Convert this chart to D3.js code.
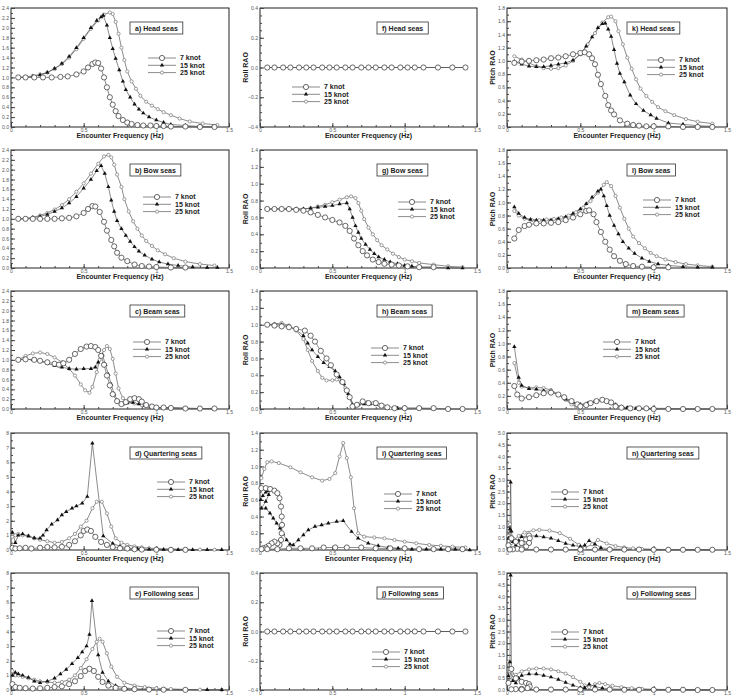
<!DOCTYPE html>
<html>
<head>
<meta charset="utf-8">
<script src="https://cdnjs.cloudflare.com/ajax/libs/d3/7.8.5/d3.min.js"></script>
<style>
  body { margin: 0; background: #fff; }
  text { font-family: Arial, "Liberation Sans", sans-serif; }
</style>
</head>
<body>
<svg id="fig" width="734" height="699"></svg>
<script>
// ---- data: [encounter frequency (Hz), RAO] ----

// head seas
const heaveHead7 = [[0.05,1.0],[0.1,1.0],[0.16,1.0],[0.22,1.0],[0.28,1.0],[0.34,1.01],[0.39,1.02],[0.45,1.06],[0.5,1.12],[0.53,1.2],[0.56,1.27],[0.58,1.3],[0.6,1.29],[0.62,1.18],[0.64,1.0],[0.66,0.8],[0.68,0.6],[0.7,0.45],[0.72,0.32],[0.74,0.22],[0.77,0.14],[0.8,0.09],[0.83,0.06],[0.87,0.04],[0.91,0.03],[0.96,0.03],[1.0,0.02],[1.05,0.02],[1.1,0.01],[1.2,0.01],[1.3,0.0],[1.4,0.0]];
const heaveHead15 = [[0.05,1.0],[0.1,1.0],[0.15,1.02],[0.2,1.05],[0.25,1.1],[0.3,1.18],[0.35,1.28],[0.4,1.42],[0.45,1.6],[0.5,1.8],[0.55,2.0],[0.59,2.15],[0.62,2.22],[0.635,2.25],[0.66,2.05],[0.68,1.8],[0.7,1.58],[0.72,1.38],[0.745,1.15],[0.77,0.92],[0.79,0.75],[0.82,0.6],[0.85,0.46],[0.88,0.36],[0.91,0.28],[0.95,0.2],[1.0,0.14],[1.05,0.09],[1.1,0.05],[1.2,0.03],[1.3,0.01],[1.4,0.0]];
const heaveHead25 = [[0.05,1.0],[0.1,1.01],[0.15,1.03],[0.2,1.06],[0.25,1.1],[0.3,1.17],[0.35,1.27],[0.4,1.4],[0.45,1.57],[0.5,1.78],[0.55,1.98],[0.6,2.15],[0.64,2.27],[0.68,2.31],[0.7,2.28],[0.72,2.12],[0.74,1.88],[0.76,1.6],[0.78,1.35],[0.8,1.12],[0.83,0.92],[0.86,0.77],[0.89,0.63],[0.93,0.51],[0.97,0.43],[1.01,0.36],[1.05,0.3],[1.1,0.24],[1.16,0.17],[1.23,0.11],[1.32,0.07],[1.42,0.04]];
const pitchHead7 = [[0.05,0.97],[0.1,0.99],[0.15,1.0],[0.2,1.01],[0.25,1.02],[0.3,1.04],[0.35,1.05],[0.4,1.07],[0.45,1.1],[0.5,1.12],[0.53,1.13],[0.56,1.1],[0.58,1.04],[0.6,0.95],[0.62,0.79],[0.64,0.65],[0.67,0.47],[0.69,0.33],[0.71,0.25],[0.73,0.19],[0.77,0.1],[0.82,0.05],[0.86,0.03],[0.9,0.02],[0.95,0.01],[1.0,0.01],[1.1,0.01],[1.2,0.0],[1.3,0.0],[1.4,0.0]];
const pitchHead15 = [[0.05,0.99],[0.1,0.95],[0.15,0.92],[0.2,0.91],[0.25,0.91],[0.3,0.93],[0.35,0.95],[0.4,0.97],[0.45,1.01],[0.5,1.1],[0.54,1.22],[0.58,1.36],[0.62,1.5],[0.65,1.56],[0.67,1.57],[0.69,1.48],[0.71,1.37],[0.73,1.17],[0.75,0.96],[0.77,0.81],[0.8,0.68],[0.84,0.48],[0.88,0.35],[0.93,0.25],[0.98,0.18],[1.02,0.13],[1.1,0.06],[1.2,0.04],[1.3,0.02],[1.4,0.01]];
const pitchHead25 = [[0.05,1.07],[0.1,1.02],[0.15,0.97],[0.2,0.92],[0.25,0.89],[0.3,0.88],[0.35,0.89],[0.4,0.93],[0.45,1.0],[0.5,1.1],[0.55,1.25],[0.6,1.42],[0.65,1.58],[0.69,1.66],[0.71,1.67],[0.74,1.6],[0.76,1.45],[0.79,1.25],[0.82,1.05],[0.85,0.88],[0.88,0.72],[0.91,0.58],[0.95,0.47],[0.99,0.38],[1.03,0.3],[1.08,0.24],[1.14,0.18],[1.22,0.12],[1.3,0.08],[1.4,0.05]];

// bow seas
const heaveBow7 = [[0.05,1.0],[0.1,1.0],[0.15,1.0],[0.2,1.0],[0.25,1.0],[0.3,1.0],[0.35,1.01],[0.4,1.02],[0.45,1.05],[0.5,1.12],[0.53,1.2],[0.56,1.26],[0.58,1.25],[0.61,1.14],[0.64,0.94],[0.66,0.76],[0.69,0.57],[0.71,0.44],[0.73,0.31],[0.76,0.21],[0.8,0.14],[0.85,0.07],[0.9,0.04],[0.95,0.03],[1.0,0.02],[1.1,0.01],[1.2,0.01]];
const heaveBow15 = [[0.05,1.0],[0.1,1.0],[0.15,1.02],[0.2,1.05],[0.25,1.09],[0.3,1.15],[0.35,1.22],[0.4,1.32],[0.45,1.45],[0.5,1.62],[0.55,1.8],[0.59,1.98],[0.62,2.08],[0.645,1.92],[0.67,1.65],[0.69,1.38],[0.71,1.15],[0.73,0.96],[0.76,0.8],[0.79,0.66],[0.82,0.54],[0.85,0.43],[0.88,0.34],[0.92,0.26],[0.97,0.18],[1.02,0.12],[1.08,0.08],[1.15,0.05],[1.25,0.02],[1.35,0.01],[1.42,0.01]];
const heaveBow25 = [[0.05,1.0],[0.1,1.01],[0.15,1.03],[0.2,1.07],[0.25,1.12],[0.3,1.19],[0.35,1.28],[0.4,1.4],[0.45,1.55],[0.5,1.72],[0.55,1.92],[0.6,2.12],[0.64,2.27],[0.67,2.3],[0.69,2.25],[0.71,2.1],[0.73,1.9],[0.76,1.65],[0.78,1.4],[0.81,1.15],[0.84,0.95],[0.87,0.8],[0.9,0.66],[0.93,0.55],[0.97,0.45],[1.01,0.36],[1.06,0.28],[1.12,0.2],[1.2,0.13],[1.3,0.08],[1.4,0.05]];
const rollBow7 = [[0.05,0.7],[0.1,0.7],[0.15,0.7],[0.2,0.7],[0.25,0.69],[0.3,0.68],[0.35,0.66],[0.4,0.63],[0.45,0.6],[0.5,0.57],[0.55,0.54],[0.59,0.5],[0.62,0.44],[0.65,0.35],[0.68,0.27],[0.71,0.2],[0.74,0.15],[0.78,0.1],[0.82,0.07],[0.86,0.05],[0.91,0.04],[0.96,0.03],[1.02,0.02],[1.1,0.01],[1.2,0.01]];
const rollBow15 = [[0.05,0.7],[0.1,0.7],[0.15,0.7],[0.2,0.7],[0.25,0.7],[0.3,0.7],[0.35,0.71],[0.4,0.72],[0.45,0.73],[0.5,0.74],[0.55,0.76],[0.6,0.77],[0.62,0.7],[0.64,0.6],[0.66,0.5],[0.68,0.42],[0.7,0.35],[0.73,0.28],[0.76,0.22],[0.79,0.17],[0.82,0.13],[0.86,0.1],[0.9,0.07],[0.95,0.05],[1.0,0.03],[1.05,0.02],[1.1,0.01],[1.2,0.01],[1.3,0.0],[1.4,0.0]];
const rollBow25 = [[0.05,0.7],[0.1,0.7],[0.15,0.7],[0.2,0.7],[0.25,0.7],[0.3,0.7],[0.35,0.71],[0.4,0.73],[0.45,0.75],[0.5,0.78],[0.55,0.81],[0.6,0.84],[0.63,0.85],[0.66,0.83],[0.68,0.77],[0.7,0.68],[0.72,0.58],[0.75,0.48],[0.78,0.4],[0.81,0.33],[0.84,0.27],[0.88,0.22],[0.92,0.17],[0.96,0.13],[1.0,0.1],[1.05,0.08],[1.1,0.06],[1.2,0.04],[1.3,0.02],[1.4,0.01]];
const pitchBow7 = [[0.05,0.45],[0.08,0.58],[0.12,0.64],[0.15,0.66],[0.2,0.68],[0.25,0.68],[0.3,0.69],[0.35,0.7],[0.4,0.73],[0.45,0.77],[0.5,0.82],[0.54,0.87],[0.56,0.88],[0.59,0.82],[0.61,0.7],[0.64,0.55],[0.67,0.4],[0.7,0.28],[0.73,0.18],[0.77,0.11],[0.81,0.06],[0.86,0.03],[0.92,0.02],[1.0,0.01],[1.1,0.01]];
const pitchBow15 = [[0.05,0.93],[0.08,0.83],[0.12,0.77],[0.16,0.74],[0.2,0.73],[0.25,0.73],[0.3,0.73],[0.35,0.75],[0.4,0.78],[0.45,0.83],[0.5,0.9],[0.54,0.98],[0.58,1.08],[0.62,1.17],[0.64,1.2],[0.66,1.1],[0.68,0.95],[0.7,0.8],[0.73,0.65],[0.76,0.52],[0.79,0.4],[0.83,0.3],[0.87,0.22],[0.92,0.15],[0.97,0.1],[1.03,0.06],[1.1,0.04],[1.2,0.02],[1.3,0.01],[1.4,0.01]];
const pitchBow25 = [[0.05,0.87],[0.08,0.8],[0.12,0.75],[0.17,0.73],[0.22,0.73],[0.27,0.74],[0.32,0.75],[0.37,0.77],[0.42,0.8],[0.47,0.85],[0.52,0.92],[0.57,1.02],[0.62,1.15],[0.66,1.27],[0.68,1.31],[0.71,1.25],[0.74,1.1],[0.77,0.92],[0.8,0.75],[0.83,0.6],[0.86,0.48],[0.9,0.38],[0.94,0.3],[0.98,0.23],[1.02,0.18],[1.08,0.13],[1.15,0.09],[1.22,0.06],[1.3,0.04],[1.4,0.02]];

// beam seas
const heaveBeam7 = [[0.05,1.0],[0.1,1.01],[0.16,1.0],[0.2,0.98],[0.25,0.95],[0.3,0.92],[0.33,0.9],[0.36,0.93],[0.4,1.0],[0.44,1.12],[0.48,1.22],[0.52,1.27],[0.55,1.28],[0.58,1.26],[0.6,1.2],[0.62,1.08],[0.64,0.9],[0.66,0.68],[0.68,0.48],[0.7,0.3],[0.73,0.16],[0.76,0.1],[0.79,0.14],[0.82,0.2],[0.85,0.22],[0.88,0.2],[0.9,0.15],[0.93,0.08],[0.97,0.05],[1.0,0.03],[1.05,0.03],[1.1,0.02],[1.2,0.01],[1.3,0.01],[1.4,0.01]];
const heaveBeam15 = [[0.05,1.0],[0.1,1.02],[0.15,1.0],[0.2,0.97],[0.25,0.93],[0.3,0.88],[0.35,0.85],[0.4,0.82],[0.45,0.81],[0.5,0.82],[0.55,0.82],[0.58,0.85],[0.6,0.95],[0.63,1.1],[0.65,0.9],[0.67,0.7],[0.69,0.5],[0.71,0.3],[0.74,0.15],[0.77,0.1],[0.8,0.12],[0.84,0.13],[0.88,0.1],[0.92,0.07],[0.96,0.04],[1.0,0.03],[1.1,0.02],[1.2,0.01],[1.3,0.01],[1.4,0.0]];
const heaveBeam25 = [[0.05,1.0],[0.1,1.08],[0.15,1.13],[0.2,1.15],[0.25,1.12],[0.3,1.05],[0.35,0.95],[0.4,0.82],[0.44,0.68],[0.48,0.5],[0.51,0.38],[0.54,0.33],[0.56,0.45],[0.59,0.75],[0.61,1.0],[0.64,1.2],[0.66,1.28],[0.68,1.22],[0.7,1.02],[0.72,0.72],[0.74,0.42],[0.77,0.22],[0.8,0.14],[0.85,0.11],[0.9,0.08],[0.95,0.05],[1.0,0.03],[1.1,0.03],[1.2,0.02],[1.3,0.01],[1.4,0.01]];
const rollBeam7 = [[0.05,1.0],[0.1,0.99],[0.15,0.98],[0.2,0.97],[0.25,0.95],[0.31,0.93],[0.35,0.87],[0.38,0.8],[0.42,0.69],[0.46,0.6],[0.49,0.52],[0.53,0.41],[0.57,0.32],[0.6,0.22],[0.62,0.14],[0.64,0.03],[0.67,0.05],[0.71,0.09],[0.75,0.07],[0.8,0.07],[0.84,0.04],[0.88,0.02],[0.93,0.01],[1.0,0.01],[1.1,0.01],[1.2,0.01],[1.3,0.0],[1.4,0.0]];
const rollBeam15 = [[0.05,1.0],[0.1,1.0],[0.15,1.0],[0.2,0.98],[0.25,0.94],[0.3,0.87],[0.33,0.78],[0.36,0.7],[0.4,0.62],[0.44,0.55],[0.48,0.5],[0.52,0.45],[0.55,0.38],[0.58,0.3],[0.61,0.18],[0.64,0.05],[0.65,0.02],[0.68,0.05],[0.72,0.06],[0.76,0.06],[0.8,0.05],[0.84,0.03],[0.88,0.01],[0.95,0.01],[1.0,0.01],[1.1,0.01],[1.2,0.0]];
const rollBeam25 = [[0.05,1.0],[0.1,1.01],[0.15,1.02],[0.2,0.99],[0.25,0.93],[0.3,0.83],[0.33,0.7],[0.36,0.57],[0.4,0.45],[0.43,0.37],[0.46,0.34],[0.5,0.34],[0.53,0.35],[0.56,0.32],[0.59,0.25],[0.62,0.15],[0.65,0.03],[0.68,0.05],[0.71,0.07],[0.74,0.08],[0.78,0.07],[0.82,0.05],[0.86,0.03],[0.9,0.01],[0.95,0.01],[1.0,0.01]];
const pitchBeam7 = [[0.05,0.35],[0.07,0.22],[0.1,0.16],[0.15,0.18],[0.2,0.21],[0.25,0.24],[0.3,0.25],[0.35,0.22],[0.39,0.18],[0.44,0.12],[0.48,0.07],[0.5,0.04],[0.54,0.06],[0.57,0.09],[0.61,0.12],[0.65,0.14],[0.68,0.12],[0.71,0.1],[0.74,0.04],[0.78,0.02],[0.84,0.01],[0.9,0.01],[0.95,0.01],[1.0,0.0],[1.1,0.0],[1.2,0.0],[1.3,0.0],[1.4,0.0]];
const pitchBeam15 = [[0.05,0.95],[0.08,0.48],[0.1,0.36],[0.15,0.31],[0.2,0.3],[0.25,0.28],[0.3,0.27],[0.35,0.22],[0.4,0.15],[0.45,0.1],[0.5,0.07],[0.55,0.08],[0.6,0.11],[0.65,0.13],[0.7,0.1],[0.74,0.06],[0.78,0.03],[0.82,0.02],[0.88,0.01],[0.95,0.01],[1.0,0.01]];
const pitchBeam25 = [[0.05,0.7],[0.08,0.4],[0.1,0.34],[0.15,0.32],[0.2,0.33],[0.25,0.32],[0.3,0.29],[0.35,0.22],[0.4,0.14],[0.44,0.07],[0.47,0.04],[0.5,0.06],[0.55,0.09],[0.6,0.12],[0.65,0.14],[0.7,0.11],[0.74,0.07],[0.78,0.03],[0.82,0.02],[0.86,0.01],[0.9,0.01],[1.0,0.01],[1.1,0.01],[1.2,0.0],[1.3,0.0],[1.4,0.0]];

// quartering seas
const heaveQuart7 = [[0.01,0.15],[0.03,0.1],[0.06,0.12],[0.1,0.15],[0.14,0.1],[0.2,0.15],[0.25,0.2],[0.3,0.18],[0.35,0.22],[0.4,0.35],[0.44,0.6],[0.48,1.0],[0.5,1.3],[0.525,1.4],[0.55,1.3],[0.58,0.9],[0.62,0.55],[0.66,0.35],[0.7,0.2],[0.75,0.12],[0.8,0.1],[0.85,0.05],[0.9,0.03],[1.0,0.02],[1.1,0.01],[1.2,0.01]];
const heaveQuart15 = [[0.01,1.2],[0.03,0.5],[0.05,1.0],[0.08,1.1],[0.12,0.95],[0.16,0.82],[0.2,0.8],[0.22,1.0],[0.245,1.37],[0.28,1.76],[0.32,2.05],[0.35,2.4],[0.38,2.62],[0.42,2.85],[0.45,3.0],[0.49,3.2],[0.525,3.65],[0.56,7.3],[0.635,0.95],[0.7,0.45],[0.75,0.25],[0.8,0.15],[0.87,0.08],[0.95,0.05],[1.05,0.03],[1.15,0.02],[1.25,0.01],[1.35,0.01],[1.45,0.01]];
const heaveQuart25 = [[0.01,0.9],[0.03,1.0],[0.05,1.1],[0.08,1.0],[0.12,0.95],[0.16,0.8],[0.2,0.7],[0.25,0.6],[0.3,0.5],[0.35,0.55],[0.4,0.8],[0.44,1.1],[0.48,1.6],[0.52,2.0],[0.56,2.85],[0.59,3.3],[0.625,3.3],[0.66,2.5],[0.69,1.6],[0.72,0.8],[0.76,0.5],[0.8,0.35],[0.85,0.25],[0.9,0.18],[0.95,0.12],[1.0,0.1],[1.1,0.07],[1.2,0.05],[1.3,0.03],[1.4,0.02]];
const rollQuart7 = [[0.01,0.74],[0.04,0.74],[0.07,0.73],[0.1,0.71],[0.12,0.68],[0.135,0.62],[0.145,0.52],[0.15,0.4],[0.152,0.3],[0.15,0.2],[0.145,0.12],[0.135,0.06],[0.12,0.08],[0.1,0.1],[0.08,0.08],[0.06,0.05],[0.04,0.03],[0.02,0.02],[0.01,0.01],[0.05,0.01],[0.12,0.01],[0.2,0.02],[0.28,0.02],[0.36,0.02],[0.44,0.03],[0.52,0.03],[0.6,0.03],[0.7,0.03],[0.8,0.02],[0.9,0.02],[1.0,0.02],[1.1,0.01],[1.2,0.01],[1.3,0.01],[1.4,0.01]];
const rollQuart15 = [[0.005,0.6],[0.02,0.65],[0.04,0.69],[0.06,0.71],[0.07,0.72],[0.06,0.66],[0.04,0.58],[0.01,0.5],[0.04,0.5],[0.069,0.44],[0.092,0.38],[0.115,0.32],[0.138,0.26],[0.16,0.19],[0.184,0.12],[0.207,0.07],[0.23,0.06],[0.265,0.12],[0.3,0.18],[0.334,0.24],[0.38,0.28],[0.426,0.3],[0.472,0.32],[0.53,0.34],[0.575,0.35],[0.633,0.22],[0.678,0.14],[0.748,0.08],[0.817,0.05],[0.886,0.03],[0.955,0.02],[1.05,0.01],[1.15,0.01],[1.25,0.01],[1.35,0.01],[1.45,0.0]];
const rollQuart25 = [[0.01,0.86],[0.03,0.97],[0.05,1.05],[0.08,1.06],[0.13,1.04],[0.21,0.99],[0.28,0.93],[0.36,0.87],[0.43,0.83],[0.48,0.85],[0.52,0.92],[0.55,1.12],[0.575,1.28],[0.6,1.1],[0.628,0.87],[0.65,0.5],[0.678,0.2],[0.72,0.16],[0.79,0.15],[0.86,0.14],[0.93,0.12],[1.0,0.1],[1.08,0.08],[1.17,0.06],[1.25,0.05],[1.33,0.04],[1.42,0.03]];
const pitchQuart7 = [[0.01,0.2],[0.03,0.5],[0.06,0.35],[0.1,0.3],[0.13,0.45],[0.15,0.62],[0.155,0.5],[0.15,0.3],[0.13,0.15],[0.1,0.08],[0.07,0.05],[0.04,0.03],[0.02,0.02],[0.1,0.02],[0.2,0.02],[0.3,0.02],[0.4,0.02],[0.5,0.02],[0.6,0.02],[0.7,0.02],[0.8,0.02],[0.9,0.02],[1.0,0.01],[1.1,0.01],[1.2,0.01],[1.3,0.01],[1.4,0.01]];
const pitchQuart15 = [[0.01,0.5],[0.02,0.9],[0.025,2.9],[0.03,0.8],[0.04,0.35],[0.06,0.2],[0.08,0.4],[0.1,0.57],[0.15,0.6],[0.2,0.6],[0.25,0.56],[0.3,0.5],[0.35,0.4],[0.4,0.28],[0.45,0.2],[0.5,0.15],[0.53,0.2],[0.56,0.4],[0.6,0.25],[0.64,0.1],[0.7,0.05],[0.8,0.03],[0.9,0.02],[1.0,0.01],[1.2,0.01],[1.4,0.0]];
const pitchQuart25 = [[0.01,0.6],[0.02,1.1],[0.03,0.3],[0.05,0.45],[0.08,0.6],[0.12,0.75],[0.18,0.84],[0.22,0.86],[0.29,0.83],[0.36,0.72],[0.43,0.48],[0.49,0.22],[0.53,0.08],[0.58,0.25],[0.62,0.43],[0.68,0.28],[0.74,0.17],[0.8,0.11],[0.86,0.07],[0.92,0.05],[1.0,0.03],[1.1,0.02],[1.2,0.01],[1.3,0.01],[1.4,0.01]];

// following seas
const heaveFoll7 = [[0.01,0.4],[0.03,0.2],[0.06,0.15],[0.1,0.12],[0.15,0.1],[0.2,0.12],[0.25,0.15],[0.3,0.2],[0.35,0.25],[0.4,0.4],[0.44,0.6],[0.48,0.95],[0.51,1.3],[0.54,1.45],[0.57,1.3],[0.6,0.9],[0.63,0.55],[0.67,0.3],[0.72,0.15],[0.78,0.08],[0.85,0.05],[0.95,0.03],[1.05,0.02],[1.2,0.01]];
const heaveFoll15 = [[0.01,1.0],[0.03,1.2],[0.05,1.1],[0.08,1.0],[0.12,0.85],[0.16,0.6],[0.2,0.5],[0.25,0.6],[0.3,0.8],[0.34,1.1],[0.38,1.4],[0.42,1.8],[0.46,2.2],[0.49,2.6],[0.52,3.0],[0.54,3.8],[0.557,6.1],[0.6,2.4],[0.63,1.2],[0.67,0.6],[0.72,0.3],[0.78,0.15],[0.85,0.08],[0.95,0.05],[1.05,0.03],[1.2,0.02],[1.35,0.01],[1.45,0.01]];
const heaveFoll25 = [[0.01,1.3],[0.03,1.0],[0.05,1.0],[0.08,0.9],[0.12,0.8],[0.16,0.7],[0.2,0.6],[0.25,0.55],[0.3,0.5],[0.35,0.55],[0.4,0.7],[0.44,1.0],[0.48,1.5],[0.52,2.1],[0.56,2.8],[0.59,3.3],[0.61,3.5],[0.63,3.3],[0.66,2.5],[0.69,1.6],[0.73,0.9],[0.78,0.5],[0.85,0.3],[0.92,0.2],[1.0,0.12],[1.1,0.07],[1.2,0.04],[1.3,0.02],[1.45,0.01]];
const pitchFoll7 = [[0.01,0.3],[0.03,0.9],[0.06,0.5],[0.1,0.35],[0.13,0.3],[0.15,0.25],[0.155,0.15],[0.14,0.08],[0.1,0.05],[0.06,0.04],[0.03,0.03],[0.1,0.02],[0.2,0.02],[0.3,0.02],[0.4,0.02],[0.5,0.02],[0.6,0.02],[0.7,0.02],[0.8,0.01],[0.9,0.01],[1.0,0.01],[1.1,0.01],[1.2,0.01],[1.3,0.0],[1.4,0.0]];
const pitchFoll15 = [[0.01,0.6],[0.02,1.2],[0.025,4.9],[0.03,0.9],[0.04,0.4],[0.06,0.3],[0.08,0.5],[0.1,0.62],[0.15,0.68],[0.2,0.68],[0.25,0.62],[0.3,0.55],[0.35,0.45],[0.4,0.32],[0.45,0.2],[0.5,0.1],[0.53,0.1],[0.56,0.25],[0.6,0.15],[0.65,0.08],[0.7,0.05],[0.8,0.03],[0.9,0.02],[1.0,0.01],[1.2,0.01],[1.4,0.0]];
const pitchFoll25 = [[0.01,1.2],[0.02,0.8],[0.04,0.5],[0.06,0.65],[0.1,0.8],[0.15,0.88],[0.2,0.92],[0.25,0.92],[0.3,0.88],[0.35,0.8],[0.4,0.7],[0.45,0.55],[0.5,0.35],[0.53,0.2],[0.56,0.12],[0.6,0.25],[0.63,0.3],[0.67,0.25],[0.72,0.18],[0.78,0.12],[0.85,0.08],[0.92,0.05],[1.0,0.03],[1.1,0.02],[1.2,0.01],[1.3,0.01],[1.4,0.0]];

// roll in head and following seas is zero at every computed frequency
const rollZeroFreq = [0.05,0.1,0.16,0.21,0.27,0.32,0.37,0.43,0.48,0.53,0.59,0.64,0.7,0.75,0.8,0.86,0.91,0.97,1.02,1.07,1.13,1.23,1.33,1.42];
const rollZeroRAO  = [0,0,0,0,0,0,0,0,0,0,0,0,0,0,0,0,0,0,0,0,0,0,0,0];
const rollZero = rollZeroFreq.map((f, i) => [f, rollZeroRAO[i]]);

const speeds = ["7 knot", "15 knot", "25 knot"];
const headings = ["Head seas", "Bow seas", "Beam seas", "Quartering seas", "Following seas"];
const letters = [["a", "f", "k"], ["b", "g", "l"], ["c", "h", "m"], ["d", "i", "n"], ["e", "j", "o"]];
const xTicks = [0, 0.5, 1, 1.5];

// ---- layout ----
const svg = d3.select("#fig");
svg.append("rect").attr("width", 734).attr("height", 699).attr("fill", "#fff");

const colX = [[11, 229], [260, 477], [507, 727]];
const rowY = [[8, 127], [150, 268], [291, 409], [433, 550], [573, 690]];
const titleDx = [119, 117, 120];
const yLabels = [null, "Roll RAO", "Pitch RAO"];

// series per [row][col]
const seriesGrid = [
  [[heaveHead7, heaveHead15, heaveHead25], [rollZero, rollZero, rollZero], [pitchHead7, pitchHead15, pitchHead25]],
  [[heaveBow7, heaveBow15, heaveBow25], [rollBow7, rollBow15, rollBow25], [pitchBow7, pitchBow15, pitchBow25]],
  [[heaveBeam7, heaveBeam15, heaveBeam25], [rollBeam7, rollBeam15, rollBeam25], [pitchBeam7, pitchBeam15, pitchBeam25]],
  [[heaveQuart7, heaveQuart15, heaveQuart25], [rollQuart7, rollQuart15, rollQuart25], [pitchQuart7, pitchQuart15, pitchQuart25]],
  [[heaveFoll7, heaveFoll15, heaveFoll25], [rollZero, rollZero, rollZero], [pitchFoll7, pitchFoll15, pitchFoll25]]
];

// y axis setup: [domain, major step, minor step, format]
function yAxisSpec(row, col) {
  if (col === 0) return row < 3 ? [[0, 2.4], 0.2, 0.1, ".1f"] : [[0, 8], 1, 0.5, "d"];
  if (col === 1) return (row === 0 || row === 4) ? [[-0.4, 0.4], 0.2, 0.05, ".1f"] : [[0, 1.4], 0.2, 0.1, ".1f"];
  return row < 3 ? [[0, 1.8], 0.2, 0.1, ".1f"] : [[0, 5], 0.5, 0.25, ".1f"];
}

// legend offsets from the plot's top-left corner
const legendPos = [
  [[137, 50], [32, 79], [140, 52]],
  [[132, 47], [138, 52], [136, 50]],
  [[122, 51], [111, 57], [96, 51]],
  [[146, 49], [124, 61], [44, 59]],
  [[146, 58], [112, 79], [44, 59]]
];

const lineColor = "#5a5a5a";

function drawMarker(sel, k) {
  if (k === 0) {
    sel.append("circle").attr("r", 2.6).attr("fill", "#fff")
      .attr("stroke", "#444").attr("stroke-width", 0.8);
  } else if (k === 1) {
    sel.append("path").attr("d", d3.symbol(d3.symbolTriangle).size(8))
      .attr("fill", "#111");
  } else {
    sel.append("circle").attr("r", 1.6).attr("fill", "#fff")
      .attr("stroke", "#777").attr("stroke-width", 0.7);
  }
}

function drawPanel(row, col) {
  const [x0, x1] = colX[col];
  const [y0, y1] = rowY[row];
  const [domain, major, minor, fmt] = yAxisSpec(row, col);

  const x = d3.scaleLinear().domain([0, 1.5]).range([x0, x1]);
  const y = d3.scaleLinear().domain(domain).range([y1, y0]);
  const g = svg.append("g");

  // frame
  g.append("rect").attr("x", x0).attr("y", y0).attr("width", x1 - x0).attr("height", y1 - y0)
    .attr("fill", "#fff").attr("stroke", "#222").attr("stroke-width", 1);

  const majorVals = d3.range(domain[0], domain[1] + major / 2, major);
  const minorVals = d3.range(domain[0], domain[1] + minor / 2, minor);

  // y axis, ticks pointing inward
  g.append("g").attr("transform", `translate(${x0},0)`)
    .call(d3.axisLeft(y).tickValues(minorVals).tickSize(-2).tickFormat(""))
    .call(a => a.select(".domain").remove())
    .call(a => a.selectAll("line").attr("stroke", "#444"));
  g.append("g").attr("transform", `translate(${x0},0)`)
    .call(d3.axisLeft(y).tickValues(majorVals).tickSize(-4).tickPadding(2)
      .tickFormat(d => d3.format(fmt)(Math.abs(d) < 1e-9 ? 0 : d)))
    .call(a => a.select(".domain").remove())
    .call(a => a.selectAll("line").attr("stroke", "#444"))
    .call(a => a.selectAll("text").attr("font-size", 5).attr("fill", "#555")
      .attr("font-family", "Arial, 'Liberation Sans', sans-serif"));

  // x axis
  g.append("g").attr("transform", `translate(0,${y1})`)
    .call(d3.axisBottom(x).tickValues(d3.range(0, 1.55, 0.1)).tickSize(-2).tickFormat(""))
    .call(a => a.select(".domain").remove())
    .call(a => a.selectAll("line").attr("stroke", "#444"));
  g.append("g").attr("transform", `translate(0,${y1})`)
    .call(d3.axisBottom(x).tickValues(xTicks).tickSize(-4).tickPadding(1).tickFormat(d => String(d)))
    .call(a => a.select(".domain").remove())
    .call(a => a.selectAll("line").attr("stroke", "#444"))
    .call(a => a.selectAll("text").attr("font-size", 5).attr("fill", "#555")
      .attr("font-family", "Arial, 'Liberation Sans', sans-serif"));

  // axis titles (the bottom row's x title falls outside the page in the figure)
  if (row < 4) {
    g.append("text").attr("x", (x0 + x1) / 2).attr("y", y1 + 11)
      .attr("text-anchor", "middle").attr("font-size", 7).attr("font-weight", "bold")
      .attr("fill", "#222").text("Encounter Frequency (Hz)");
  }
  if (yLabels[col]) {
    g.append("text").attr("transform", `translate(${x0 - 12},${(y0 + y1) / 2}) rotate(-90)`)
      .attr("text-anchor", "middle").attr("font-size", 7).attr("font-weight", "bold")
      .attr("fill", "#222").text(yLabels[col]);
  }

  // series, drawn 25 -> 15 -> 7 so the large circles sit on top
  const line = d3.line().x(d => x(d[0])).y(d => y(d[1]));
  const series = seriesGrid[row][col];
  [2, 1, 0].forEach(k => {
    g.append("path").datum(series[k]).attr("d", line)
      .attr("fill", "none").attr("stroke", lineColor).attr("stroke-width", 0.7);
  });
  [2, 1, 0].forEach(k => {
    g.append("g").selectAll("g").data(series[k]).join("g")
      .attr("transform", d => `translate(${x(d[0])},${y(d[1])})`)
      .each(function() { drawMarker(d3.select(this), k); });
  });

  // title box
  const tb = g.append("g").attr("transform", `translate(${x0 + titleDx[col]},${y0 + 14})`);
  const rect = tb.append("rect").attr("height", 12).attr("fill", "#fff")
    .attr("stroke", "#333").attr("stroke-width", 0.8);
  const tt = tb.append("text").attr("x", 5).attr("y", 8.6).attr("font-size", 7)
    .attr("font-weight", "bold").attr("fill", "#222")
    .text(`${letters[row][col]}) ${headings[row]}`);
  rect.attr("width", tt.node().getComputedTextLength() + 10);

  // legend
  const [lx, ly] = legendPos[row][col];
  speeds.forEach((s, k) => {
    const lg = g.append("g").attr("transform", `translate(${x0 + lx},${y0 + ly + k * 7.3})`);
    lg.append("line").attr("x1", 0).attr("x2", 28).attr("stroke", lineColor).attr("stroke-width", 0.7);
    drawMarker(lg.append("g").attr("transform", "translate(14,0)"), k);
    lg.append("text").attr("x", 32).attr("y", 2.4).attr("font-size", 7)
      .attr("font-weight", "bold").attr("fill", "#222").text(s);
  });
}

for (let r = 0; r < 5; r++) {
  for (let c = 0; c < 3; c++) drawPanel(r, c);
}
</script>
</body>
</html>
